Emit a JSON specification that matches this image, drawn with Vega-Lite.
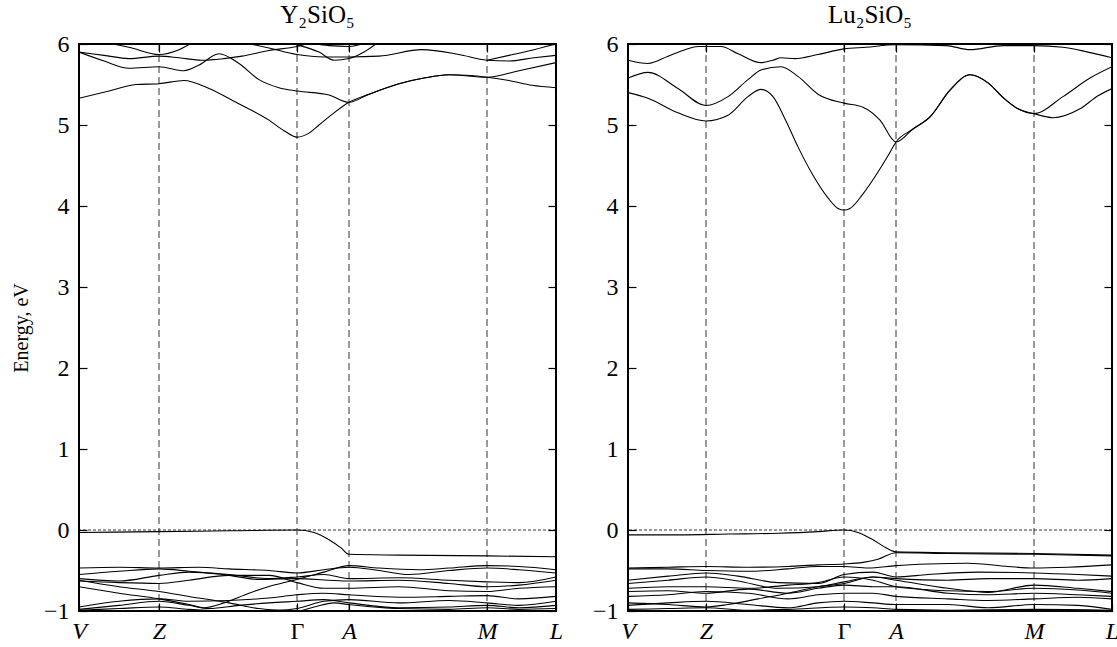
{
"$schema": "https://vega.github.io/schema/vega-lite/v6.json",
"padding": {"top": 2, "left": 10, "right": 5, "bottom": 0},
"config": {"view": {"stroke": "#000", "strokeWidth": 2}, "font": "Liberation Serif", "concat": {"spacing": 27},
 "axis": {"grid": false, "domain": false, "tickColor": "#000", "tickWidth": 1.2, "labelColor": "#000", "labelFont": "Liberation Serif", "titleFont": "Liberation Serif", "titleColor": "#000", "titleFontWeight": "normal"}},
"datasets": {
"y": [
{"b":"c1","k":0,"e":5.33},{"b":"c1","k":30,"e":5.42},{"b":"c1","k":57,"e":5.5},{"b":"c1","k":80,"e":5.51},{"b":"c1","k":105,"e":5.55},{"b":"c1","k":130,"e":5.45},{"b":"c1","k":157,"e":5.28},{"b":"c1","k":190,"e":5.06},{"b":"c1","k":205,"e":4.93},{"b":"c1","k":218,"e":4.85},{"b":"c1","k":230,"e":4.9},{"b":"c1","k":240,"e":5.0},{"b":"c1","k":255,"e":5.15},{"b":"c1","k":270,"e":5.28},{"b":"c1","k":290,"e":5.38},{"b":"c1","k":320,"e":5.51},{"b":"c1","k":345,"e":5.58},{"b":"c1","k":370,"e":5.62},{"b":"c1","k":408,"e":5.59},{"b":"c1","k":430,"e":5.55},{"b":"c1","k":453,"e":5.49},{"b":"c1","k":477,"e":5.46},
{"b":"c2","k":0,"e":5.9},{"b":"c2","k":25,"e":5.79},{"b":"c2","k":50,"e":5.7},{"b":"c2","k":80,"e":5.72},{"b":"c2","k":105,"e":5.67},{"b":"c2","k":120,"e":5.74},{"b":"c2","k":140,"e":5.88},{"b":"c2","k":160,"e":5.76},{"b":"c2","k":180,"e":5.56},{"b":"c2","k":200,"e":5.46},{"b":"c2","k":218,"e":5.42},{"b":"c2","k":250,"e":5.37},{"b":"c2","k":270,"e":5.28},{"b":"c2","k":290,"e":5.38},{"b":"c2","k":320,"e":5.51},{"b":"c2","k":345,"e":5.58},{"b":"c2","k":370,"e":5.62},{"b":"c2","k":408,"e":5.59},{"b":"c2","k":440,"e":5.67},{"b":"c2","k":477,"e":5.77},
{"b":"c3","k":0,"e":5.9},{"b":"c3","k":25,"e":5.86},{"b":"c3","k":50,"e":5.82},{"b":"c3","k":80,"e":5.85},{"b":"c3","k":100,"e":5.83},{"b":"c3","k":123,"e":5.8},{"b":"c3","k":145,"e":5.82},{"b":"c3","k":163,"e":5.85},{"b":"c3","k":190,"e":5.92},{"b":"c3","k":218,"e":5.97},{"b":"c3","k":235,"e":6.03},
{"b":"c4","k":20,"e":6.03},{"b":"c4","k":50,"e":5.96},{"b":"c4","k":80,"e":5.87},{"b":"c4","k":100,"e":5.93},{"b":"c4","k":115,"e":6.03},
{"b":"c5","k":160,"e":6.03},{"b":"c5","k":190,"e":5.95},{"b":"c5","k":218,"e":5.87},{"b":"c5","k":245,"e":5.84},{"b":"c5","k":270,"e":5.84},{"b":"c5","k":300,"e":5.85},{"b":"c5","k":343,"e":5.93},{"b":"c5","k":380,"e":5.87},{"b":"c5","k":408,"e":5.8},{"b":"c5","k":430,"e":5.79},{"b":"c5","k":455,"e":5.83},{"b":"c5","k":477,"e":5.86},
{"b":"c6","k":205,"e":6.03},{"b":"c6","k":218,"e":5.99},{"b":"c6","k":240,"e":5.9},{"b":"c6","k":255,"e":5.8},{"b":"c6","k":270,"e":5.82},{"b":"c6","k":285,"e":5.9},{"b":"c6","k":300,"e":6.03},
{"b":"c7","k":408,"e":5.8},{"b":"c7","k":430,"e":5.86},{"b":"c7","k":455,"e":5.93},{"b":"c7","k":477,"e":6.0},
{"b":"c8","k":225,"e":6.03},{"b":"c8","k":250,"e":5.98},{"b":"c8","k":270,"e":5.97},{"b":"c8","k":290,"e":6.03},
{"b":"v1","k":0,"e":-0.03},{"b":"v1","k":80,"e":-0.02},{"b":"v1","k":150,"e":-0.01},{"b":"v1","k":218,"e":0.0},{"b":"v1","k":235,"e":-0.03},{"b":"v1","k":250,"e":-0.12},{"b":"v1","k":262,"e":-0.22},{"b":"v1","k":270,"e":-0.3},{"b":"v1","k":320,"e":-0.31},{"b":"v1","k":408,"e":-0.32},{"b":"v1","k":477,"e":-0.33},
{"b":"v2","k":0,"e":-0.47},{"b":"v2","k":40,"e":-0.46},{"b":"v2","k":80,"e":-0.47},{"b":"v2","k":120,"e":-0.46},{"b":"v2","k":150,"e":-0.48},{"b":"v2","k":190,"e":-0.5},{"b":"v2","k":218,"e":-0.53},{"b":"v2","k":245,"e":-0.49},{"b":"v2","k":270,"e":-0.46},{"b":"v2","k":300,"e":-0.5},{"b":"v2","k":330,"e":-0.55},{"b":"v2","k":370,"e":-0.5},{"b":"v2","k":408,"e":-0.47},{"b":"v2","k":440,"e":-0.49},{"b":"v2","k":477,"e":-0.53},
{"b":"v3","k":0,"e":-0.55},{"b":"v3","k":40,"e":-0.51},{"b":"v3","k":80,"e":-0.48},{"b":"v3","k":110,"e":-0.51},{"b":"v3","k":150,"e":-0.56},{"b":"v3","k":180,"e":-0.61},{"b":"v3","k":218,"e":-0.6},{"b":"v3","k":250,"e":-0.62},{"b":"v3","k":270,"e":-0.63},{"b":"v3","k":320,"e":-0.62},{"b":"v3","k":370,"e":-0.66},{"b":"v3","k":408,"e":-0.7},{"b":"v3","k":440,"e":-0.68},{"b":"v3","k":477,"e":-0.62},
{"b":"v4","k":0,"e":-0.6},{"b":"v4","k":40,"e":-0.63},{"b":"v4","k":80,"e":-0.56},{"b":"v4","k":110,"e":-0.52},{"b":"v4","k":150,"e":-0.55},{"b":"v4","k":190,"e":-0.6},{"b":"v4","k":218,"e":-0.58},{"b":"v4","k":245,"e":-0.55},{"b":"v4","k":270,"e":-0.6},{"b":"v4","k":320,"e":-0.59},{"b":"v4","k":370,"e":-0.62},{"b":"v4","k":408,"e":-0.64},{"b":"v4","k":440,"e":-0.65},{"b":"v4","k":477,"e":-0.58},
{"b":"v5","k":0,"e":-0.63},{"b":"v5","k":40,"e":-0.65},{"b":"v5","k":80,"e":-0.66},{"b":"v5","k":110,"e":-0.62},{"b":"v5","k":150,"e":-0.56},{"b":"v5","k":190,"e":-0.56},{"b":"v5","k":218,"e":-0.65},{"b":"v5","k":245,"e":-0.72},{"b":"v5","k":270,"e":-0.72},{"b":"v5","k":320,"e":-0.7},{"b":"v5","k":370,"e":-0.75},{"b":"v5","k":408,"e":-0.76},{"b":"v5","k":440,"e":-0.72},{"b":"v5","k":477,"e":-0.7},
{"b":"v6","k":0,"e":-0.62},{"b":"v6","k":40,"e":-0.7},{"b":"v6","k":80,"e":-0.76},{"b":"v6","k":110,"e":-0.82},{"b":"v6","k":150,"e":-0.9},{"b":"v6","k":180,"e":-0.97},{"b":"v6","k":200,"e":-0.99},{"b":"v6","k":218,"e":-0.97},{"b":"v6","k":245,"e":-0.88},{"b":"v6","k":270,"e":-0.86},{"b":"v6","k":320,"e":-0.9},{"b":"v6","k":370,"e":-0.87},{"b":"v6","k":408,"e":-0.9},{"b":"v6","k":440,"e":-0.93},{"b":"v6","k":477,"e":-0.88},
{"b":"v7","k":0,"e":-0.7},{"b":"v7","k":40,"e":-0.78},{"b":"v7","k":80,"e":-0.85},{"b":"v7","k":110,"e":-0.92},{"b":"v7","k":125,"e":-0.96},{"b":"v7","k":145,"e":-0.9},{"b":"v7","k":170,"e":-0.78},{"b":"v7","k":195,"e":-0.68},{"b":"v7","k":218,"e":-0.61},{"b":"v7","k":245,"e":-0.52},{"b":"v7","k":270,"e":-0.44},{"b":"v7","k":300,"e":-0.47},{"b":"v7","k":340,"e":-0.49},{"b":"v7","k":370,"e":-0.47},{"b":"v7","k":408,"e":-0.44},{"b":"v7","k":440,"e":-0.45},{"b":"v7","k":477,"e":-0.49},
{"b":"v8","k":0,"e":-0.95},{"b":"v8","k":40,"e":-0.88},{"b":"v8","k":80,"e":-0.85},{"b":"v8","k":110,"e":-0.88},{"b":"v8","k":150,"e":-0.87},{"b":"v8","k":190,"e":-0.84},{"b":"v8","k":218,"e":-0.8},{"b":"v8","k":245,"e":-0.78},{"b":"v8","k":270,"e":-0.8},{"b":"v8","k":320,"e":-0.83},{"b":"v8","k":370,"e":-0.82},{"b":"v8","k":408,"e":-0.81},{"b":"v8","k":440,"e":-0.85},{"b":"v8","k":477,"e":-0.82},
{"b":"v9","k":0,"e":-0.98},{"b":"v9","k":40,"e":-0.93},{"b":"v9","k":80,"e":-0.88},{"b":"v9","k":110,"e":-0.93},{"b":"v9","k":130,"e":-0.97},{"b":"v9","k":160,"e":-0.93},{"b":"v9","k":190,"e":-0.9},{"b":"v9","k":218,"e":-0.88},{"b":"v9","k":245,"e":-0.86},{"b":"v9","k":270,"e":-0.9},{"b":"v9","k":320,"e":-0.96},{"b":"v9","k":370,"e":-0.95},{"b":"v9","k":408,"e":-0.93},{"b":"v9","k":440,"e":-0.96},{"b":"v9","k":477,"e":-0.93},
{"b":"v10","k":0,"e":-0.99},{"b":"v10","k":40,"e":-0.97},{"b":"v10","k":80,"e":-0.95},{"b":"v10","k":110,"e":-0.98},{"b":"v10","k":150,"e":-1.0},{"b":"v10","k":200,"e":-0.99},{"b":"v10","k":218,"e":-1.0},{"b":"v10","k":235,"e":-0.95},{"b":"v10","k":255,"e":-0.9},{"b":"v10","k":270,"e":-0.92},{"b":"v10","k":320,"e":-0.97},{"b":"v10","k":370,"e":-0.98},{"b":"v10","k":408,"e":-0.96},{"b":"v10","k":440,"e":-0.98},{"b":"v10","k":477,"e":-0.97}
],
"lu": [
{"b":"c1","k":0,"e":5.4},{"b":"c1","k":20,"e":5.33},{"b":"c1","k":50,"e":5.15},{"b":"c1","k":78,"e":5.05},{"b":"c1","k":100,"e":5.12},{"b":"c1","k":120,"e":5.35},{"b":"c1","k":133,"e":5.44},{"b":"c1","k":145,"e":5.35},{"b":"c1","k":158,"e":5.05},{"b":"c1","k":170,"e":4.73},{"b":"c1","k":185,"e":4.38},{"b":"c1","k":200,"e":4.1},{"b":"c1","k":210,"e":3.97},{"b":"c1","k":216,"e":3.95},{"b":"c1","k":222,"e":3.97},{"b":"c1","k":235,"e":4.15},{"b":"c1","k":250,"e":4.42},{"b":"c1","k":260,"e":4.62},{"b":"c1","k":268,"e":4.79},{"b":"c1","k":285,"e":4.95},{"b":"c1","k":302,"e":5.1},{"b":"c1","k":322,"e":5.43},{"b":"c1","k":342,"e":5.62},{"b":"c1","k":360,"e":5.52},{"b":"c1","k":375,"e":5.34},{"b":"c1","k":390,"e":5.2},{"b":"c1","k":406,"e":5.14},{"b":"c1","k":425,"e":5.09},{"b":"c1","k":452,"e":5.2},{"b":"c1","k":470,"e":5.36},{"b":"c1","k":484,"e":5.45},
{"b":"c2","k":0,"e":5.58},{"b":"c2","k":20,"e":5.65},{"b":"c2","k":50,"e":5.45},{"b":"c2","k":78,"e":5.24},{"b":"c2","k":100,"e":5.35},{"b":"c2","k":120,"e":5.56},{"b":"c2","k":133,"e":5.68},{"b":"c2","k":153,"e":5.72},{"b":"c2","k":170,"e":5.6},{"b":"c2","k":190,"e":5.38},{"b":"c2","k":216,"e":5.27},{"b":"c2","k":235,"e":5.22},{"b":"c2","k":252,"e":5.06},{"b":"c2","k":268,"e":4.79},{"b":"c2","k":285,"e":4.95},{"b":"c2","k":302,"e":5.1},{"b":"c2","k":322,"e":5.43},{"b":"c2","k":342,"e":5.62},{"b":"c2","k":360,"e":5.52},{"b":"c2","k":375,"e":5.34},{"b":"c2","k":390,"e":5.2},{"b":"c2","k":406,"e":5.14},{"b":"c2","k":435,"e":5.35},{"b":"c2","k":462,"e":5.58},{"b":"c2","k":484,"e":5.72},
{"b":"c3","k":0,"e":5.8},{"b":"c3","k":20,"e":5.76},{"b":"c3","k":40,"e":5.85},{"b":"c3","k":57,"e":5.93},{"b":"c3","k":70,"e":5.97},{"b":"c3","k":93,"e":5.97},{"b":"c3","k":110,"e":5.88},{"b":"c3","k":133,"e":5.77},{"b":"c3","k":145,"e":5.8},{"b":"c3","k":153,"e":5.83},{"b":"c3","k":167,"e":5.82},{"b":"c3","k":190,"e":5.87},{"b":"c3","k":216,"e":5.94},{"b":"c3","k":238,"e":5.96},{"b":"c3","k":268,"e":5.99},{"b":"c3","k":318,"e":5.98},{"b":"c3","k":342,"e":5.93},{"b":"c3","k":375,"e":5.98},{"b":"c3","k":406,"e":5.98},{"b":"c3","k":435,"e":5.96},{"b":"c3","k":460,"e":5.9},{"b":"c3","k":484,"e":5.83},
{"b":"v1","k":0,"e":-0.06},{"b":"v1","k":50,"e":-0.06},{"b":"v1","k":100,"e":-0.05},{"b":"v1","k":150,"e":-0.04},{"b":"v1","k":190,"e":-0.02},{"b":"v1","k":216,"e":0.0},{"b":"v1","k":230,"e":-0.03},{"b":"v1","k":245,"e":-0.12},{"b":"v1","k":258,"e":-0.22},{"b":"v1","k":268,"e":-0.27},{"b":"v1","k":320,"e":-0.28},{"b":"v1","k":406,"e":-0.29},{"b":"v1","k":484,"e":-0.31},
{"b":"v2","k":0,"e":-0.47},{"b":"v2","k":40,"e":-0.46},{"b":"v2","k":78,"e":-0.45},{"b":"v2","k":120,"e":-0.46},{"b":"v2","k":160,"e":-0.45},{"b":"v2","k":190,"e":-0.43},{"b":"v2","k":216,"e":-0.42},{"b":"v2","k":235,"e":-0.4},{"b":"v2","k":250,"e":-0.36},{"b":"v2","k":268,"e":-0.28},{"b":"v2","k":320,"e":-0.29},{"b":"v2","k":406,"e":-0.3},{"b":"v2","k":484,"e":-0.32},
{"b":"v3","k":0,"e":-0.48},{"b":"v3","k":40,"e":-0.48},{"b":"v3","k":78,"e":-0.5},{"b":"v3","k":120,"e":-0.51},{"b":"v3","k":160,"e":-0.48},{"b":"v3","k":190,"e":-0.45},{"b":"v3","k":216,"e":-0.45},{"b":"v3","k":240,"e":-0.47},{"b":"v3","k":268,"e":-0.44},{"b":"v3","k":300,"e":-0.42},{"b":"v3","k":340,"e":-0.41},{"b":"v3","k":380,"e":-0.45},{"b":"v3","k":406,"e":-0.47},{"b":"v3","k":440,"e":-0.46},{"b":"v3","k":484,"e":-0.43},
{"b":"v4","k":0,"e":-0.62},{"b":"v4","k":40,"e":-0.57},{"b":"v4","k":78,"e":-0.53},{"b":"v4","k":110,"e":-0.57},{"b":"v4","k":150,"e":-0.65},{"b":"v4","k":190,"e":-0.66},{"b":"v4","k":216,"e":-0.55},{"b":"v4","k":245,"e":-0.52},{"b":"v4","k":268,"e":-0.58},{"b":"v4","k":300,"e":-0.55},{"b":"v4","k":350,"e":-0.52},{"b":"v4","k":406,"e":-0.53},{"b":"v4","k":450,"e":-0.55},{"b":"v4","k":484,"e":-0.57},
{"b":"v5","k":0,"e":-0.66},{"b":"v5","k":40,"e":-0.62},{"b":"v5","k":78,"e":-0.58},{"b":"v5","k":110,"e":-0.63},{"b":"v5","k":150,"e":-0.72},{"b":"v5","k":190,"e":-0.7},{"b":"v5","k":216,"e":-0.64},{"b":"v5","k":245,"e":-0.58},{"b":"v5","k":268,"e":-0.62},{"b":"v5","k":320,"e":-0.72},{"b":"v5","k":360,"e":-0.77},{"b":"v5","k":406,"e":-0.68},{"b":"v5","k":450,"e":-0.72},{"b":"v5","k":484,"e":-0.76},
{"b":"v6","k":0,"e":-0.72},{"b":"v6","k":40,"e":-0.7},{"b":"v6","k":78,"e":-0.7},{"b":"v6","k":120,"e":-0.72},{"b":"v6","k":160,"e":-0.68},{"b":"v6","k":190,"e":-0.65},{"b":"v6","k":216,"e":-0.58},{"b":"v6","k":245,"e":-0.62},{"b":"v6","k":268,"e":-0.7},{"b":"v6","k":320,"e":-0.75},{"b":"v6","k":360,"e":-0.76},{"b":"v6","k":406,"e":-0.72},{"b":"v6","k":450,"e":-0.74},{"b":"v6","k":484,"e":-0.78},
{"b":"v7","k":0,"e":-0.76},{"b":"v7","k":40,"e":-0.75},{"b":"v7","k":78,"e":-0.78},{"b":"v7","k":120,"e":-0.73},{"b":"v7","k":160,"e":-0.78},{"b":"v7","k":190,"e":-0.72},{"b":"v7","k":216,"e":-0.68},{"b":"v7","k":245,"e":-0.7},{"b":"v7","k":268,"e":-0.7},{"b":"v7","k":320,"e":-0.78},{"b":"v7","k":360,"e":-0.8},{"b":"v7","k":406,"e":-0.78},{"b":"v7","k":450,"e":-0.8},{"b":"v7","k":484,"e":-0.82},
{"b":"v8","k":0,"e":-0.82},{"b":"v8","k":40,"e":-0.8},{"b":"v8","k":78,"e":-0.76},{"b":"v8","k":120,"e":-0.78},{"b":"v8","k":160,"e":-0.85},{"b":"v8","k":190,"e":-0.8},{"b":"v8","k":216,"e":-0.78},{"b":"v8","k":245,"e":-0.78},{"b":"v8","k":268,"e":-0.82},{"b":"v8","k":320,"e":-0.85},{"b":"v8","k":360,"e":-0.87},{"b":"v8","k":406,"e":-0.85},{"b":"v8","k":450,"e":-0.83},{"b":"v8","k":484,"e":-0.85},
{"b":"v9","k":0,"e":-0.9},{"b":"v9","k":40,"e":-0.92},{"b":"v9","k":78,"e":-0.95},{"b":"v9","k":100,"e":-0.92},{"b":"v9","k":130,"e":-0.85},{"b":"v9","k":160,"e":-0.78},{"b":"v9","k":190,"e":-0.7},{"b":"v9","k":216,"e":-0.66},{"b":"v9","k":245,"e":-0.58},{"b":"v9","k":268,"e":-0.6},{"b":"v9","k":320,"e":-0.62},{"b":"v9","k":360,"e":-0.6},{"b":"v9","k":406,"e":-0.6},{"b":"v9","k":450,"e":-0.62},{"b":"v9","k":484,"e":-0.6},
{"b":"v10","k":0,"e":-0.93},{"b":"v10","k":40,"e":-0.9},{"b":"v10","k":78,"e":-0.88},{"b":"v10","k":120,"e":-0.92},{"b":"v10","k":160,"e":-0.96},{"b":"v10","k":190,"e":-0.9},{"b":"v10","k":216,"e":-0.88},{"b":"v10","k":245,"e":-0.9},{"b":"v10","k":268,"e":-0.92},{"b":"v10","k":320,"e":-0.92},{"b":"v10","k":360,"e":-0.96},{"b":"v10","k":406,"e":-0.92},{"b":"v10","k":450,"e":-0.93},{"b":"v10","k":484,"e":-0.98},
{"b":"v11","k":0,"e":-0.98},{"b":"v11","k":40,"e":-0.97},{"b":"v11","k":78,"e":-0.96},{"b":"v11","k":120,"e":-0.99},{"b":"v11","k":160,"e":-0.98},{"b":"v11","k":216,"e":-0.95},{"b":"v11","k":245,"e":-0.96},{"b":"v11","k":268,"e":-0.98},{"b":"v11","k":320,"e":-0.99},{"b":"v11","k":406,"e":-0.98},{"b":"v11","k":484,"e":-0.99}
]
},
"hconcat": [
{
 "width": 477, "height": 567,
 "title": {"text": "Y₂SiO₅", "fontSize": 25, "font": "Liberation Serif", "fontWeight": "normal", "offset": 4, "color": "#000"},
 "layer": [
  {"data": {"values": [{"k": 80}, {"k": 218}, {"k": 270}, {"k": 408}]},
   "mark": {"type": "rule", "strokeDash": [7, 4], "color": "#000", "strokeWidth": 0.8},
   "encoding": {"x": {"field": "k", "type": "quantitative", "scale": {"domain": [0, 477], "nice": false, "zero": false},
     "axis": {"orient": "top", "values": [80, 218, 270, 408], "labels": false, "tickSize": -8, "title": null}}}},
  {"data": {"values": [{"e": 0}]},
   "mark": {"type": "rule", "strokeDash": [3, 2], "color": "#000", "strokeWidth": 0.8},
   "encoding": {"y": {"field": "e", "type": "quantitative", "scale": {"domain": [-1, 6], "nice": false, "zero": false},
     "axis": {"orient": "right", "values": [-1, 0, 1, 2, 3, 4, 5, 6], "labels": false, "tickSize": -8, "title": null}}}},
  {"data": {"name": "y"},
   "mark": {"type": "line", "interpolate": "monotone", "color": "#000", "strokeWidth": 1.1, "clip": true},
   "encoding": {
    "x": {"field": "k", "type": "quantitative", "scale": {"domain": [0, 477], "nice": false, "zero": false},
     "axis": {"orient": "bottom", "values": [0, 80, 218, 270, 408, 477], "tickSize": -8, "labelPadding": 16, "labelFont": "Liberation Serif", "labelFontSize": 24, "labelFlush": false, "title": null,
      "labelExpr": "datum.value == 0 ? 'V' : datum.value == 80 ? 'Z' : datum.value == 218 ? 'Γ' : datum.value == 270 ? 'A' : datum.value == 408 ? 'M' : 'L'",
      "labelFontStyle": {"condition": {"test": "datum.value == 218", "value": "normal"}, "value": "italic"}}},
    "y": {"field": "e", "type": "quantitative", "scale": {"domain": [-1, 6], "nice": false, "zero": false},
     "axis": {"orient": "left", "values": [-1, 0, 1, 2, 3, 4, 5, 6], "tickSize": -8, "labelPadding": 18, "labelFont": "Liberation Serif", "labelFontSize": 24, "title": "Energy, eV", "titleFont": "Liberation Serif", "titleFontSize": 20, "titlePadding": 12}},
    "detail": {"field": "b"}}}
 ],
 "resolve": {"axis": {"x": "independent", "y": "independent"}}
},
{
 "width": 484, "height": 567,
 "title": {"text": "Lu₂SiO₅", "fontSize": 25, "font": "Liberation Serif", "fontWeight": "normal", "offset": 4, "color": "#000"},
 "layer": [
  {"data": {"values": [{"k": 78}, {"k": 216}, {"k": 268}, {"k": 406}]},
   "mark": {"type": "rule", "strokeDash": [7, 4], "color": "#000", "strokeWidth": 0.8},
   "encoding": {"x": {"field": "k", "type": "quantitative", "scale": {"domain": [0, 484], "nice": false, "zero": false},
     "axis": {"orient": "top", "values": [78, 216, 268, 406], "labels": false, "tickSize": -8, "title": null}}}},
  {"data": {"values": [{"e": 0}]},
   "mark": {"type": "rule", "strokeDash": [3, 2], "color": "#000", "strokeWidth": 0.8},
   "encoding": {"y": {"field": "e", "type": "quantitative", "scale": {"domain": [-1, 6], "nice": false, "zero": false},
     "axis": {"orient": "right", "values": [-1, 0, 1, 2, 3, 4, 5, 6], "labels": false, "tickSize": -8, "title": null}}}},
  {"data": {"name": "lu"},
   "mark": {"type": "line", "interpolate": "monotone", "color": "#000", "strokeWidth": 1.1, "clip": true},
   "encoding": {
    "x": {"field": "k", "type": "quantitative", "scale": {"domain": [0, 484], "nice": false, "zero": false},
     "axis": {"orient": "bottom", "values": [0, 78, 216, 268, 406, 484], "tickSize": -8, "labelPadding": 16, "labelFont": "Liberation Serif", "labelFontSize": 24, "labelFlush": false, "title": null,
      "labelExpr": "datum.value == 0 ? 'V' : datum.value == 78 ? 'Z' : datum.value == 216 ? 'Γ' : datum.value == 268 ? 'A' : datum.value == 406 ? 'M' : 'L'",
      "labelFontStyle": {"condition": {"test": "datum.value == 216", "value": "normal"}, "value": "italic"}}},
    "y": {"field": "e", "type": "quantitative", "scale": {"domain": [-1, 6], "nice": false, "zero": false},
     "axis": {"orient": "left", "values": [-1, 0, 1, 2, 3, 4, 5, 6], "tickSize": -8, "labelPadding": 18, "labelFont": "Liberation Serif", "labelFontSize": 24, "title": null}},
    "detail": {"field": "b"}}}
 ],
 "resolve": {"axis": {"x": "independent", "y": "independent"}}
}
]
}
